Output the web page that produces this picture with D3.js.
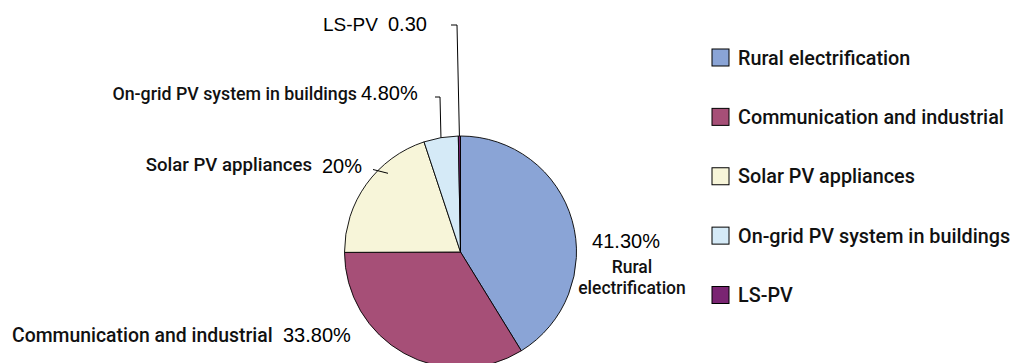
<!DOCTYPE html>
<html><head><meta charset="utf-8">
<script src="https://cdn.jsdelivr.net/npm/d3@7"></script>
<style>
html,body{margin:0;padding:0;background:#fff;}
.lbl{font-family:Roboto,"Liberation Sans",sans-serif;font-weight:500;fill:#111;}
.pct{font-family:"Liberation Sans",Arial,sans-serif;font-weight:400;fill:#000;}
</style>
</head><body>
<svg id="chart" width="1014" height="363"></svg>
<script>
const categories = ["Rural electrification","Communication and industrial","Solar PV appliances","On-grid PV system in buildings","LS-PV"];
const values = [41.3, 33.8, 20, 4.8, 0.3];
const valueLabels = ["41.30%","33.80%","20%","4.80%","0.30"];
const colors = ["#8AA4D6","#A64F77","#F7F5D9","#D5EAF7","#7A2572"];

const svg = d3.select("#chart");
const cx = 460.5, cy = 252, r = 116;

const pie = d3.pie().sort(null).value(d => d)(values);
const arc = d3.arc().innerRadius(0).outerRadius(r);
const color = d3.scaleOrdinal().domain(categories).range(colors);

const g = svg.append("g").attr("transform", `translate(${cx},${cy})`);
g.selectAll("path").data(pie).join("path")
  .attr("d", arc)
  .attr("fill", (d,i) => color(categories[i]))
  .attr("stroke", "#000").attr("stroke-width", 0.9);

function edge(i, rr) {
  const a = (pie[i].startAngle + pie[i].endAngle) / 2;
  return [cx + rr * Math.sin(a), cy - rr * Math.cos(a)];
}

const line = d3.line();
const leaders = [
  {i:4, pts:[[451,25],[457,25]]},
  {i:3, pts:[[435,97],[440,97]]},
  {i:2, pts:[[373,169.5],[388,173.3]]}
];
leaders.forEach(l => {
  const pts = l.i === 2 ? l.pts : l.pts.concat([edge(l.i, r)]);
  svg.append("path").attr("d", line(pts)).attr("fill","none")
    .attr("stroke","#000").attr("stroke-width",1);
});

function lbl(x, y, txt, size, anchor) {
  svg.append("text").attr("class","lbl").attr("x",x).attr("y",y)
    .attr("font-size",size).attr("text-anchor",anchor||"start").text(txt);
}
function pct(x, y, txt, anchor, size) {
  svg.append("text").attr("class","pct").attr("x",x).attr("y",y)
    .attr("font-size",size||20).attr("text-anchor",anchor||"start").text(txt);
}
// LS-PV
pct(323, 31, categories[4], "start", 19);
pct(388, 31, valueLabels[4]);
// On-grid
lbl(357, 100, categories[3], 17.8, "end");
pct(361, 100, valueLabels[3]);
// Solar
lbl(312, 171, categories[2], 18.6, "end");
pct(322, 172.5, valueLabels[2]);
// Communication
lbl(12, 341.5, categories[1], 19.4);
pct(283, 341.5, valueLabels[1]);
// Rural
pct(626, 247.5, valueLabels[0], "middle");
lbl(632, 273, "Rural", 17.5, "middle");
lbl(632, 294, "electrification", 17.5, "middle");

// legend
const lg = svg.append("g");
const rowY = d3.scalePoint().domain(categories).range([57.5, 295]);
const items = lg.selectAll("g").data(categories).join("g")
  .attr("transform", d => `translate(712,${rowY(d)})`);
items.append("rect").attr("x",0).attr("y",-8.5).attr("width",17).attr("height",17)
  .attr("fill", d => color(d)).attr("stroke","#000").attr("stroke-width",1);
items.append("text").attr("class","lbl").attr("x",26).attr("y",7)
  .attr("font-size",19.8).text(d => d);
</script>
</body></html>
